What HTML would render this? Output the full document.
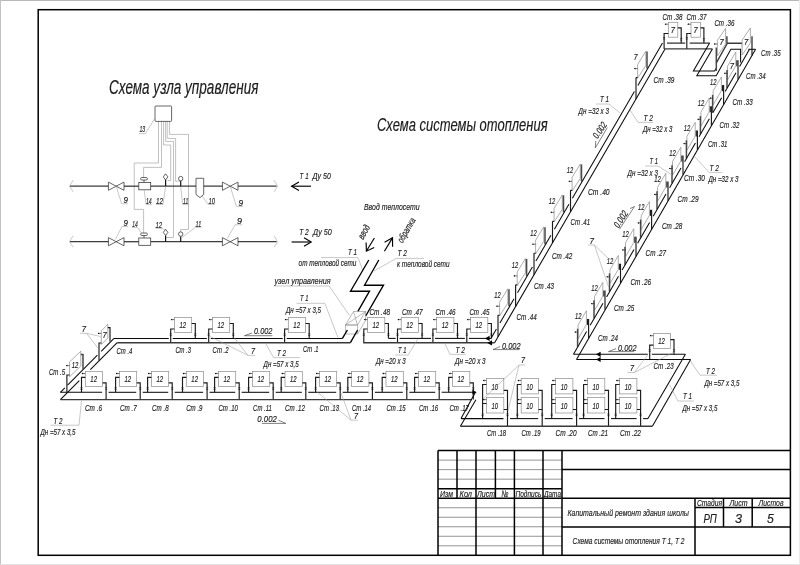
<!DOCTYPE html>
<html lang="ru"><head><meta charset="utf-8"><title>Схема системы отопления</title>
<style>
html,body{margin:0;padding:0;background:#fff}
body{width:800px;height:565px;overflow:hidden}
svg{display:block;will-change:transform;opacity:0.999}
text{font-family:"Liberation Sans",sans-serif;font-style:italic;fill:#1e1e1e;stroke:#1e1e1e;stroke-width:0.18}
.tt{fill:#1c1c1c}
line,path,rect,circle{fill:none;stroke-linecap:butt}
.fr{stroke:#000;stroke-width:1.5}
.tb{stroke:#000;stroke-width:1.5}
.tb2{stroke:#7a7a7a;stroke-width:0.8}
.cp{stroke:#3c3c3c;stroke-width:1.3}
.cpb{stroke:#111;stroke-width:1.2}
.sy{stroke:#333;stroke-width:0.75}
.syw{stroke:#333;stroke-width:0.75;fill:#fff}
.wr{stroke:#a6a6a6;stroke-width:0.7}
.ld{stroke:#9a9a9a;stroke-width:0.55}
.sl{stroke:#4a4a4a;stroke-width:0.7}
.ar{stroke:#000;stroke-width:1.15;stroke-linejoin:miter}
.m1{stroke:#0a0a0a;stroke-width:1.05}
.m2{stroke:#3a3a3a;stroke-width:1.35}
.pp{stroke:#1a1a1a;stroke-width:1.15}
.pg{stroke:#4a4a4a;stroke-width:1.5}
.rb{stroke:#8c8c8c;stroke-width:0.7;fill:#fff}
.rn{stroke:#8c8c8c;stroke-width:0.6}
.zz{stroke:#000;stroke-width:1.35;stroke-linejoin:miter}
.fa{fill:#000;stroke:none}
.tk{stroke:#1a1a1a;stroke-width:0.6}
</style></head>
<body>
<svg width="800" height="565" viewBox="0 0 800 565">
<rect x="0" y="0" width="800" height="565" style="fill:#fff"/>
<rect x="0" y="0" width="800" height="1" style="fill:#b9b9b9"/>
<rect x="0" y="0" width="1" height="565" style="fill:#c2c2c2"/>
<rect x="0" y="564" width="800" height="1" style="fill:#e4e4e4"/>
<rect x="799" y="0" width="1" height="565" style="fill:#ebebeb"/>
<rect class="fr" x="38.2" y="9.7" width="752.2" height="545.6"/>
<line class="tb2" x1="438" y1="460.12" x2="562" y2="460.12"/>
<line class="tb2" x1="438" y1="469.64" x2="562" y2="469.64"/>
<line class="tb2" x1="438" y1="479.16" x2="562" y2="479.16"/>
<line class="tb2" x1="438" y1="507.72" x2="562" y2="507.72"/>
<line class="tb2" x1="438" y1="517.24" x2="562" y2="517.24"/>
<line class="tb2" x1="438" y1="526.76" x2="562" y2="526.76"/>
<line class="tb2" x1="438" y1="536.28" x2="562" y2="536.28"/>
<line class="tb2" x1="438" y1="545.8" x2="562" y2="545.8"/>
<line class="tb" x1="438" y1="450.6" x2="790.4" y2="450.6"/>
<line class="tb" x1="438" y1="450.6" x2="438" y2="555.3"/>
<line class="tb" x1="438" y1="488.68" x2="562" y2="488.68"/>
<line class="tb" x1="438" y1="498.2" x2="790.4" y2="498.2"/>
<line class="tb" x1="476" y1="450.6" x2="476" y2="555.3"/>
<line class="tb" x1="514.4" y1="450.6" x2="514.4" y2="555.3"/>
<line class="tb" x1="543" y1="450.6" x2="543" y2="555.3"/>
<line class="tb" x1="562" y1="450.6" x2="562" y2="555.3"/>
<line class="tb" x1="457" y1="450.6" x2="457" y2="498.2"/>
<line class="tb" x1="495.4" y1="450.6" x2="495.4" y2="498.2"/>
<line class="tb" x1="562" y1="469.5" x2="790.4" y2="469.5"/>
<line class="tb" x1="562" y1="527" x2="790.4" y2="527"/>
<line class="tb" x1="695" y1="498.2" x2="695" y2="555.3"/>
<line class="tb" x1="695" y1="507.6" x2="790.4" y2="507.6"/>
<line class="tb" x1="723.5" y1="498.2" x2="723.5" y2="527"/>
<line class="tb" x1="752.2" y1="498.2" x2="752.2" y2="527"/>
<text class="tx" x="440" y="497" font-size="9.4" textLength="13" lengthAdjust="spacingAndGlyphs">Изм</text>
<text class="tx" x="459.6" y="497" font-size="9.4" textLength="12.4" lengthAdjust="spacingAndGlyphs">Кол</text>
<text class="tx" x="477" y="497" font-size="9.4" textLength="18" lengthAdjust="spacingAndGlyphs">Лист</text>
<text class="tx" x="501.4" y="497" font-size="9.4" textLength="7" lengthAdjust="spacingAndGlyphs">№</text>
<text class="tx" x="515.4" y="497" font-size="9.4" textLength="26" lengthAdjust="spacingAndGlyphs">Подпись</text>
<text class="tx" x="544" y="497" font-size="9.4" textLength="17" lengthAdjust="spacingAndGlyphs">Дата</text>
<text class="tx" x="697" y="506.2" font-size="8.9" textLength="25" lengthAdjust="spacingAndGlyphs">Стадия</text>
<text class="tx" x="729.5" y="506.2" font-size="8.9" textLength="18" lengthAdjust="spacingAndGlyphs">Лист</text>
<text class="tx" x="758.6" y="506.2" font-size="8.9" textLength="24.9" lengthAdjust="spacingAndGlyphs">Листов</text>
<text class="tx" x="703.4" y="522.5" font-size="13" textLength="13.4" lengthAdjust="spacingAndGlyphs">РП</text>
<text class="tx" x="735" y="522.5" font-size="13" textLength="7" lengthAdjust="spacingAndGlyphs">3</text>
<text class="tx" x="767" y="522.5" font-size="13" textLength="6.8" lengthAdjust="spacingAndGlyphs">5</text>
<text class="tx" x="567.5" y="515.6" font-size="9.8" textLength="121.5" lengthAdjust="spacingAndGlyphs">Капитальный ремонт здания школы</text>
<text class="tx" x="572.6" y="544" font-size="9.8" textLength="111.9" lengthAdjust="spacingAndGlyphs">Схема системы отопления Т 1,  Т 2</text>
<text class="tt" x="109" y="93.6" font-size="19.3" textLength="149.4" lengthAdjust="spacingAndGlyphs">Схема узла управления</text>
<path class="wr" d="M158.5,121.4 V163 H134.2 V209.4 H143.6 V233.2"/>
<path class="wr" d="M161.5,121.4 V167.4 H143.6 V177.5"/>
<path class="wr" d="M163.6,121.4 V145 H170.7 V180.5 H167.6"/>
<path class="wr" d="M165.6,121.4 V141.4 H173.5 V237.5 H165.6"/>
<path class="wr" d="M167.2,121.4 V138.4 H175.6 V181.2 H180.2"/>
<path class="wr" d="M169.4,121.4 V134.4 H188.5 V229.5 H180.6 V232"/>
<rect class="sy" x="155" y="106" width="16.6" height="15.4" rx="0.8"/>
<text class="tx" x="139.4" y="132.4" font-size="9.6" textLength="5.8" lengthAdjust="spacingAndGlyphs">13</text>
<path class="ld" d="M155,118 L145.4,133.6 L139,133.6"/>
<line class="cp" x1="70" y1="186.2" x2="108.4" y2="186.2"/>
<line class="cp" x1="124" y1="186.2" x2="138.8" y2="186.2"/>
<line class="cp" x1="150.7" y1="186.2" x2="222.4" y2="186.2"/>
<line class="cp" x1="238" y1="186.2" x2="276.6" y2="186.2"/>
<path class="ld" d="M73.2,180.2 L69.4,186.2 L73.2,191.8"/>
<path class="ld" d="M274,180.2 L277.6,186.2 L274,191.8"/>
<path class="sy" d="M108.4,182.1 L124,190.3 L124,182.1 L108.4,190.3 Z"/>
<path class="sy" d="M222.4,182.1 L238,190.3 L238,182.1 L222.4,190.3 Z"/>
<rect class="sy" x="138.8" y="182.5" width="11.9" height="7.3" style="fill:#fff"/>
<line class="sy" x1="144" y1="182.5" x2="144" y2="180"/>
<rect class="sy" x="140.6" y="177.5" width="6.8" height="2.5" rx="1.2"/>
<line class="cpb" x1="165.6" y1="186.2" x2="165.6" y2="180"/>
<path class="sy" d="M165.6,180 L167.9,176.9 L165.6,173.8 L163.3,176.9 Z"/>
<line class="cpb" x1="180.7" y1="186.2" x2="180.7" y2="180.9"/>
<circle class="sy" cx="180.7" cy="178.6" r="2.2"/>
<line class="cp" x1="70" y1="241.7" x2="108.4" y2="241.7"/>
<line class="cp" x1="124" y1="241.7" x2="138.8" y2="241.7"/>
<line class="cp" x1="150.7" y1="241.7" x2="222.4" y2="241.7"/>
<line class="cp" x1="238" y1="241.7" x2="276.6" y2="241.7"/>
<path class="ld" d="M73.2,235.7 L69.4,241.7 L73.2,247.3"/>
<path class="ld" d="M274,235.7 L277.6,241.7 L274,247.3"/>
<path class="sy" d="M108.4,237.6 L124,245.8 L124,237.6 L108.4,245.8 Z"/>
<path class="sy" d="M222.4,237.6 L238,245.8 L238,237.6 L222.4,245.8 Z"/>
<rect class="sy" x="138.8" y="238" width="11.9" height="7.3" style="fill:#fff"/>
<line class="sy" x1="144" y1="238" x2="144" y2="235.5"/>
<rect class="sy" x="140.6" y="233" width="6.8" height="2.5" rx="1.2"/>
<line class="cpb" x1="165.6" y1="241.7" x2="165.6" y2="235.5"/>
<path class="sy" d="M165.6,235.5 L167.9,232.4 L165.6,229.3 L163.3,232.4 Z"/>
<line class="cpb" x1="180.7" y1="241.7" x2="180.7" y2="236.4"/>
<circle class="sy" cx="180.7" cy="234.1" r="2.2"/>
<path class="syw" d="M196,178.3 L203.7,178.3 L203.7,194.5 L200,197.6 L196,194.5 Z"/>
<text class="tx" x="123.6" y="203" font-size="9.6" textLength="4.4" lengthAdjust="spacingAndGlyphs">9</text>
<path class="ld" d="M116.2,186.2 L121.6,203.8 L128,203.8"/>
<text class="tx" x="146" y="203.8" font-size="9.6" textLength="5.7" lengthAdjust="spacingAndGlyphs">14</text>
<path class="ld" d="M144.2,189.8 L146,204.6 L152,204.6"/>
<text class="tx" x="156" y="203.8" font-size="9.6" textLength="7" lengthAdjust="spacingAndGlyphs">12</text>
<path class="ld" d="M165.6,186.2 L163,204.6 L156,204.6"/>
<text class="tx" x="183" y="203.8" font-size="9.6" textLength="5.2" lengthAdjust="spacingAndGlyphs">11</text>
<path class="ld" d="M180.7,186.2 L182.6,204.6 L188.4,204.6"/>
<text class="tx" x="208.4" y="203.6" font-size="9.6" textLength="6.6" lengthAdjust="spacingAndGlyphs">10</text>
<path class="ld" d="M202,195.8 L208,204.4 L215.2,204.4"/>
<text class="tx" x="238.4" y="205.6" font-size="9.6" textLength="4.6" lengthAdjust="spacingAndGlyphs">9</text>
<path class="ld" d="M230.2,186.2 L236.4,206.4 L243.2,206.4"/>
<text class="tx" x="123.6" y="225.6" font-size="9.6" textLength="4.4" lengthAdjust="spacingAndGlyphs">9</text>
<path class="ld" d="M128.2,226.5 L122,226.5 L115.4,239.5"/>
<text class="tx" x="132.2" y="226.8" font-size="9.6" textLength="5.5" lengthAdjust="spacingAndGlyphs">14</text>
<path class="ld" d="M132,227.6 L137.7,227.6 L141,232.6"/>
<text class="tx" x="155.5" y="227.5" font-size="9.6" textLength="6.7" lengthAdjust="spacingAndGlyphs">12</text>
<path class="ld" d="M155.4,228.3 L162,228.3 L165,230"/>
<text class="tx" x="195.5" y="226.5" font-size="9.6" textLength="5.7" lengthAdjust="spacingAndGlyphs">11</text>
<path class="ld" d="M201.4,227.3 L195.4,227.3 L182.2,237.4"/>
<text class="tx" x="237" y="224" font-size="9.6" textLength="5" lengthAdjust="spacingAndGlyphs">9</text>
<path class="ld" d="M242.2,224.8 L235,224.8 L227.4,238.4"/>
<line class="ar" x1="291.6" y1="186.2" x2="311" y2="186.2"/>
<path class="ar" d="M299,182 L291.6,186.2 L299,190.4"/>
<line class="ar" x1="291.6" y1="242" x2="311" y2="242"/>
<path class="ar" d="M304,237.8 L311.2,242 L304,246.2"/>
<text class="tx" x="299.6" y="179.1" font-size="9.7" textLength="9" lengthAdjust="spacingAndGlyphs">T 1</text>
<text class="tx" x="312.6" y="179.1" font-size="9.7" textLength="18.3" lengthAdjust="spacingAndGlyphs">Ду 50</text>
<text class="tx" x="299.2" y="235.1" font-size="9.7" textLength="9.6" lengthAdjust="spacingAndGlyphs">T 2</text>
<text class="tx" x="313" y="235.1" font-size="9.7" textLength="18.8" lengthAdjust="spacingAndGlyphs">Ду 50</text>
<text class="tt" x="377" y="130.5" font-size="18.6" textLength="170.6" lengthAdjust="spacingAndGlyphs">Схема системы отопления</text>
<text class="tx" x="364" y="209.6" font-size="9.8" textLength="55.6" lengthAdjust="spacingAndGlyphs">Ввод теплосети</text>
<text transform="translate(362.9,240) rotate(-60)" font-size="9.6" textLength="15" lengthAdjust="spacingAndGlyphs">ввод</text>
<text transform="translate(402.5,243.4) rotate(-60)" font-size="9.6" textLength="27" lengthAdjust="spacingAndGlyphs">обратка</text>
<line class="ar" x1="374.4" y1="238" x2="366.6" y2="250.8"/>
<path class="ar" d="M366.1,242.4 L366.4,251.2 L374.2,247.4"/>
<line class="ar" x1="384.4" y1="251.2" x2="392.2" y2="238.4"/>
<path class="ar" d="M384.6,242.2 L392.5,237.8 L392.6,246.8"/>
<text class="tx" x="348" y="255" font-size="9.6" textLength="9" lengthAdjust="spacingAndGlyphs">T 1</text>
<path class="ld" d="M321,257.6 L358,257.6 L362.6,269.8"/>
<text class="tx" x="298.6" y="266.2" font-size="9.6" textLength="57.8" lengthAdjust="spacingAndGlyphs">от тепловой сети</text>
<text class="tx" x="397.6" y="256.4" font-size="9.6" textLength="9.4" lengthAdjust="spacingAndGlyphs">T 2</text>
<path class="ld" d="M424,258.4 L396.2,258.4 L374,271"/>
<text class="tx" x="397" y="267.2" font-size="9.6" textLength="52.6" lengthAdjust="spacingAndGlyphs">к тепловой сети</text>
<text class="tx" x="274.4" y="284.4" font-size="9.6" textLength="56.2" lengthAdjust="spacingAndGlyphs">узел управления</text>
<path class="ld" d="M274,286 L329.2,286 L349.5,315.5"/>
<text class="tx" x="300" y="301" font-size="9.6" textLength="8.4" lengthAdjust="spacingAndGlyphs">T 1</text>
<path class="ld" d="M296.5,303.3 L324.8,303.3 L338,337.6"/>
<text class="tx" x="286" y="312.5" font-size="9.6" textLength="35" lengthAdjust="spacingAndGlyphs">Дн =57 х 3,5</text>
<path class="zz" d="M368.8,260 L350.5,291.2 L369.5,291.2 L357.9,311.4"/>
<path class="zz" d="M378.8,260 L364.5,285.2 L383.5,285.2 L365.7,316"/>
<path class="rn" d="M345.5,325 L357.5,325 L357.5,334 L345.5,334 Z"/>
<path class="rn" d="M345.5,325 L353.5,311.5 L365.5,311.5 L357.5,325 Z"/>
<path class="rn" d="M365.5,311.5 L365.5,320.5 L357.5,334"/>
<line class="rn" x1="345.5" y1="325" x2="365.5" y2="311.5"/>
<line class="rn" x1="353.5" y1="311.5" x2="357.5" y2="325"/>
<rect class="rb" x="174.4" y="317.5" width="17.3" height="15"/>
<text class="tx" x="179.45" y="328.3" font-size="9.5" textLength="6.6" lengthAdjust="spacingAndGlyphs">12</text>
<line class="tk" x1="171" y1="319.6" x2="174.4" y2="319.6"/>
<path class="fa" d="M172.2,318.7 L170.8,319.6 L172.2,320.5 Z"/>
<path class="pp" d="M174.4,329 H170.7 V342.7"/>
<path class="pp" d="M191.7,323.5 H195.3 V338.4"/>
<line class="tk" x1="169.6" y1="335.4" x2="171.8" y2="335.4"/>
<line class="tk" x1="169.6" y1="333.8" x2="171.8" y2="333.8"/>
<line class="tk" x1="194.2" y1="335.4" x2="196.4" y2="335.4"/>
<line class="tk" x1="194.2" y1="333.8" x2="196.4" y2="333.8"/>
<rect class="rb" x="212.4" y="317.5" width="17.3" height="15"/>
<text class="tx" x="217.45" y="328.3" font-size="9.5" textLength="6.6" lengthAdjust="spacingAndGlyphs">12</text>
<line class="tk" x1="209" y1="319.6" x2="212.4" y2="319.6"/>
<path class="fa" d="M210.2,318.7 L208.8,319.6 L210.2,320.5 Z"/>
<path class="pp" d="M212.4,329 H208.7 V342.7"/>
<path class="pp" d="M229.7,323.5 H233.3 V338.4"/>
<line class="tk" x1="207.6" y1="335.4" x2="209.8" y2="335.4"/>
<line class="tk" x1="207.6" y1="333.8" x2="209.8" y2="333.8"/>
<line class="tk" x1="232.2" y1="335.4" x2="234.4" y2="335.4"/>
<line class="tk" x1="232.2" y1="333.8" x2="234.4" y2="333.8"/>
<rect class="rb" x="288.3" y="317.5" width="17.3" height="15"/>
<text class="tx" x="293.35" y="328.3" font-size="9.5" textLength="6.6" lengthAdjust="spacingAndGlyphs">12</text>
<line class="tk" x1="284.9" y1="319.6" x2="288.3" y2="319.6"/>
<path class="fa" d="M286.1,318.7 L284.7,319.6 L286.1,320.5 Z"/>
<path class="pp" d="M288.3,329 H284.6 V342.7"/>
<path class="pp" d="M305.6,323.5 H309.2 V338.4"/>
<line class="tk" x1="283.5" y1="335.4" x2="285.7" y2="335.4"/>
<line class="tk" x1="283.5" y1="333.8" x2="285.7" y2="333.8"/>
<line class="tk" x1="308.1" y1="335.4" x2="310.3" y2="335.4"/>
<line class="tk" x1="308.1" y1="333.8" x2="310.3" y2="333.8"/>
<line class="m1" x1="114" y1="338.4" x2="168.8" y2="338.4"/>
<line class="m1" x1="172.8" y1="338.4" x2="206.8" y2="338.4"/>
<line class="m1" x1="210.8" y1="338.4" x2="282.7" y2="338.4"/>
<line class="m1" x1="286.7" y1="338.4" x2="342.4" y2="338.4"/>
<line class="m2" x1="117.2" y1="342.7" x2="350.4" y2="342.7"/>
<path class="zz" d="M347.4,330 L342.4,338.4"/>
<path class="zz" d="M357.6,330 L350.4,342.7"/>
<line class="zz" x1="342.4" y1="338.4" x2="342" y2="338.4"/>
<line class="m1" x1="60.4" y1="392.3" x2="64.8" y2="387.88"/>
<line class="m1" x1="67.6" y1="385.06" x2="97.4" y2="355.09"/>
<line class="m1" x1="101.2" y1="351.27" x2="114" y2="338.4"/>
<line class="m1" x1="60.4" y1="399.6" x2="79.3" y2="380.67"/>
<line class="m1" x1="90.3" y1="369.65" x2="117.2" y2="342.7"/>
<path class="rb" d="M107.8,324.2 L101.3,331 L101.3,344.5 L107.8,338 Z"/>
<text class="tx" x="102.5" y="337.6" font-size="9.2" textLength="4.2" lengthAdjust="spacingAndGlyphs">7</text>
<path class="pp" d="M107.8,327.6 H110 V341.6"/>
<path class="pp" d="M101.3,343 H99 V360.6"/>
<line class="tk" x1="97.9" y1="333.4" x2="101.3" y2="333.4"/>
<path class="fa" d="M99.1,332.5 L97.7,333.4 L99.1,334.3 Z"/>
<path class="rb" d="M80.8,351.2 L69.5,362 L69.5,376.8 L80.8,366 Z"/>
<text class="tx" x="71.7" y="367.6" font-size="9.4" textLength="6.6" lengthAdjust="spacingAndGlyphs">12</text>
<path class="pg" d="M80.8,354.6 H83 V369"/>
<path class="pp" d="M69.5,375 H66.9 V392.8"/>
<line class="tk" x1="66.1" y1="365.6" x2="69.5" y2="365.6"/>
<path class="fa" d="M67.3,364.7 L65.9,365.6 L67.3,366.5 Z"/>
<text class="tx" x="116.6" y="354.4" font-size="9.6" textLength="15.8" lengthAdjust="spacingAndGlyphs">Ст .4</text>
<text class="tx" x="49" y="375" font-size="9.6" textLength="16" lengthAdjust="spacingAndGlyphs">Ст .5</text>
<text class="tx" x="81.8" y="331.5" font-size="9.6" textLength="4.2" lengthAdjust="spacingAndGlyphs">7</text>
<path class="ld" d="M80,333.3 L86.5,333.3 L100.5,336.5"/>
<path class="ld" d="M86.5,333.3 L98,348"/>
<text class="tx" x="175.4" y="352.6" font-size="9.6" textLength="15.6" lengthAdjust="spacingAndGlyphs">Ст .3</text>
<text class="tx" x="212.6" y="352.6" font-size="9.6" textLength="16" lengthAdjust="spacingAndGlyphs">Ст .2</text>
<text class="tx" x="303" y="352" font-size="9.6" textLength="15.5" lengthAdjust="spacingAndGlyphs">Ст .1</text>
<text class="tx" x="254" y="334.4" font-size="9.6" textLength="18.4" lengthAdjust="spacingAndGlyphs">0.002</text>
<path class="sl" d="M272.4,335.7 L244.4,335.7 L252,333"/>
<text class="tx" x="251" y="353.6" font-size="9.6" textLength="4" lengthAdjust="spacingAndGlyphs">7</text>
<path class="ld" d="M255,355.4 L248,355.4 L209,336"/>
<path class="ld" d="M248,355.4 L234,337.4"/>
<text class="tx" x="277" y="356" font-size="9.6" textLength="9" lengthAdjust="spacingAndGlyphs">T 2</text>
<path class="ld" d="M300,357.6 L273.6,357.6 L266,344"/>
<text class="tx" x="263.6" y="367" font-size="9.6" textLength="35" lengthAdjust="spacingAndGlyphs">Дн =57 х 3,5</text>
<rect class="rb" x="367.5" y="317.5" width="17.3" height="15"/>
<text class="tx" x="372.55" y="328.3" font-size="9.5" textLength="6.6" lengthAdjust="spacingAndGlyphs">12</text>
<line class="tk" x1="364.1" y1="319.6" x2="367.5" y2="319.6"/>
<path class="fa" d="M365.3,318.7 L363.9,319.6 L365.3,320.5 Z"/>
<path class="pp" d="M367.5,329 H363.8 V342.7"/>
<path class="pp" d="M384.8,323.5 H388.4 V338.4"/>
<line class="tk" x1="362.7" y1="335.4" x2="364.9" y2="335.4"/>
<line class="tk" x1="362.7" y1="333.8" x2="364.9" y2="333.8"/>
<line class="tk" x1="387.3" y1="335.4" x2="389.5" y2="335.4"/>
<line class="tk" x1="387.3" y1="333.8" x2="389.5" y2="333.8"/>
<rect class="rb" x="401.2" y="317.5" width="17.3" height="15"/>
<text class="tx" x="406.25" y="328.3" font-size="9.5" textLength="6.6" lengthAdjust="spacingAndGlyphs">12</text>
<line class="tk" x1="397.8" y1="319.6" x2="401.2" y2="319.6"/>
<path class="fa" d="M399,318.7 L397.6,319.6 L399,320.5 Z"/>
<path class="pp" d="M401.2,329 H397.5 V342.7"/>
<path class="pp" d="M418.5,323.5 H422.1 V338.4"/>
<line class="tk" x1="396.4" y1="335.4" x2="398.6" y2="335.4"/>
<line class="tk" x1="396.4" y1="333.8" x2="398.6" y2="333.8"/>
<line class="tk" x1="421" y1="335.4" x2="423.2" y2="335.4"/>
<line class="tk" x1="421" y1="333.8" x2="423.2" y2="333.8"/>
<rect class="rb" x="436.6" y="317.5" width="17.3" height="15"/>
<text class="tx" x="441.65" y="328.3" font-size="9.5" textLength="6.6" lengthAdjust="spacingAndGlyphs">12</text>
<line class="tk" x1="433.2" y1="319.6" x2="436.6" y2="319.6"/>
<path class="fa" d="M434.4,318.7 L433,319.6 L434.4,320.5 Z"/>
<path class="pp" d="M436.6,329 H432.9 V342.7"/>
<path class="pp" d="M453.9,323.5 H457.5 V338.4"/>
<line class="tk" x1="431.8" y1="335.4" x2="434" y2="335.4"/>
<line class="tk" x1="431.8" y1="333.8" x2="434" y2="333.8"/>
<line class="tk" x1="456.4" y1="335.4" x2="458.6" y2="335.4"/>
<line class="tk" x1="456.4" y1="333.8" x2="458.6" y2="333.8"/>
<rect class="rb" x="470.5" y="317.5" width="17.3" height="15"/>
<text class="tx" x="475.55" y="328.3" font-size="9.5" textLength="6.6" lengthAdjust="spacingAndGlyphs">12</text>
<line class="tk" x1="467.1" y1="319.6" x2="470.5" y2="319.6"/>
<path class="fa" d="M468.3,318.7 L466.9,319.6 L468.3,320.5 Z"/>
<path class="pp" d="M470.5,329 H466.8 V342.7"/>
<path class="pp" d="M487.8,323.5 H491.4 V338.4"/>
<line class="tk" x1="465.7" y1="335.4" x2="467.9" y2="335.4"/>
<line class="tk" x1="465.7" y1="333.8" x2="467.9" y2="333.8"/>
<line class="tk" x1="490.3" y1="335.4" x2="492.5" y2="335.4"/>
<line class="tk" x1="490.3" y1="333.8" x2="492.5" y2="333.8"/>
<line class="m1" x1="388.6" y1="338.4" x2="395.6" y2="338.4"/>
<line class="m1" x1="399.6" y1="338.4" x2="431" y2="338.4"/>
<line class="m1" x1="435" y1="338.4" x2="464.9" y2="338.4"/>
<line class="m1" x1="468.9" y1="338.4" x2="491" y2="338.4"/>
<line class="m2" x1="363.2" y1="342.7" x2="494.6" y2="342.7"/>
<path class="fa" d="M484.9,338.4 L489.6,335.8 L489.6,341 Z"/>
<path class="fa" d="M487.3,342.9 L492,340.3 L492,345.5 Z"/>
<text class="tx" x="369.4" y="315" font-size="9.6" textLength="20.6" lengthAdjust="spacingAndGlyphs">Ст .48</text>
<text class="tx" x="402" y="315" font-size="9.6" textLength="20.6" lengthAdjust="spacingAndGlyphs">Ст .47</text>
<text class="tx" x="435.4" y="315" font-size="9.6" textLength="20.2" lengthAdjust="spacingAndGlyphs">Ст .46</text>
<text class="tx" x="469.4" y="315" font-size="9.6" textLength="20" lengthAdjust="spacingAndGlyphs">Ст .45</text>
<text class="tx" x="398" y="353.4" font-size="9.6" textLength="8.4" lengthAdjust="spacingAndGlyphs">T 1</text>
<path class="ld" d="M395,355 L408,355 L418,338.6"/>
<text class="tx" x="376" y="364.4" font-size="9.6" textLength="29.6" lengthAdjust="spacingAndGlyphs">Дн =20 х 3</text>
<text class="tx" x="455.6" y="353" font-size="9.6" textLength="9.4" lengthAdjust="spacingAndGlyphs">T 2</text>
<path class="ld" d="M465.5,354.4 L450,354.4 L445,344"/>
<text class="tx" x="455" y="364" font-size="9.6" textLength="30.6" lengthAdjust="spacingAndGlyphs">Дн =20 х 3</text>
<text class="tx" x="502" y="348.5" font-size="9.6" textLength="18.5" lengthAdjust="spacingAndGlyphs">0.002</text>
<path class="sl" d="M519.5,349.6 L493,349.6 L500,346.6"/>
<rect class="rb" x="85.3" y="371.4" width="17.3" height="15"/>
<text class="tx" x="90.35" y="382.2" font-size="9.5" textLength="6.6" lengthAdjust="spacingAndGlyphs">12</text>
<line class="tk" x1="81.9" y1="373.5" x2="85.3" y2="373.5"/>
<path class="fa" d="M83.1,372.6 L81.7,373.5 L83.1,374.4 Z"/>
<path class="pp" d="M85.3,377.3 H81.5 V392.3"/>
<path class="pp" d="M102.6,382.8 H106.1 V399.6"/>
<line class="tk" x1="80.4" y1="389.3" x2="82.6" y2="389.3"/>
<line class="tk" x1="80.4" y1="387.7" x2="82.6" y2="387.7"/>
<line class="tk" x1="105" y1="389.3" x2="107.2" y2="389.3"/>
<line class="tk" x1="105" y1="387.7" x2="107.2" y2="387.7"/>
<rect class="rb" x="119.4" y="371.4" width="17.3" height="15"/>
<text class="tx" x="124.45" y="382.2" font-size="9.5" textLength="6.6" lengthAdjust="spacingAndGlyphs">12</text>
<line class="tk" x1="116" y1="373.5" x2="119.4" y2="373.5"/>
<path class="fa" d="M117.2,372.6 L115.8,373.5 L117.2,374.4 Z"/>
<path class="pp" d="M119.4,377.3 H115.6 V392.3"/>
<path class="pp" d="M136.7,382.8 H140.2 V399.6"/>
<line class="tk" x1="114.5" y1="389.3" x2="116.7" y2="389.3"/>
<line class="tk" x1="114.5" y1="387.7" x2="116.7" y2="387.7"/>
<line class="tk" x1="139.1" y1="389.3" x2="141.3" y2="389.3"/>
<line class="tk" x1="139.1" y1="387.7" x2="141.3" y2="387.7"/>
<rect class="rb" x="151.4" y="371.4" width="17.3" height="15"/>
<text class="tx" x="156.45" y="382.2" font-size="9.5" textLength="6.6" lengthAdjust="spacingAndGlyphs">12</text>
<line class="tk" x1="148" y1="373.5" x2="151.4" y2="373.5"/>
<path class="fa" d="M149.2,372.6 L147.8,373.5 L149.2,374.4 Z"/>
<path class="pp" d="M151.4,377.3 H147.6 V392.3"/>
<path class="pp" d="M168.7,382.8 H172.2 V399.6"/>
<line class="tk" x1="146.5" y1="389.3" x2="148.7" y2="389.3"/>
<line class="tk" x1="146.5" y1="387.7" x2="148.7" y2="387.7"/>
<line class="tk" x1="171.1" y1="389.3" x2="173.3" y2="389.3"/>
<line class="tk" x1="171.1" y1="387.7" x2="173.3" y2="387.7"/>
<rect class="rb" x="186.3" y="371.4" width="17.3" height="15"/>
<text class="tx" x="191.35" y="382.2" font-size="9.5" textLength="6.6" lengthAdjust="spacingAndGlyphs">12</text>
<line class="tk" x1="182.9" y1="373.5" x2="186.3" y2="373.5"/>
<path class="fa" d="M184.1,372.6 L182.7,373.5 L184.1,374.4 Z"/>
<path class="pp" d="M186.3,377.3 H182.5 V392.3"/>
<path class="pp" d="M203.6,382.8 H207.1 V399.6"/>
<line class="tk" x1="181.4" y1="389.3" x2="183.6" y2="389.3"/>
<line class="tk" x1="181.4" y1="387.7" x2="183.6" y2="387.7"/>
<line class="tk" x1="206" y1="389.3" x2="208.2" y2="389.3"/>
<line class="tk" x1="206" y1="387.7" x2="208.2" y2="387.7"/>
<rect class="rb" x="218.4" y="371.4" width="17.3" height="15"/>
<text class="tx" x="223.45" y="382.2" font-size="9.5" textLength="6.6" lengthAdjust="spacingAndGlyphs">12</text>
<line class="tk" x1="215" y1="373.5" x2="218.4" y2="373.5"/>
<path class="fa" d="M216.2,372.6 L214.8,373.5 L216.2,374.4 Z"/>
<path class="pp" d="M218.4,377.3 H214.6 V392.3"/>
<path class="pp" d="M235.7,382.8 H239.2 V399.6"/>
<line class="tk" x1="213.5" y1="389.3" x2="215.7" y2="389.3"/>
<line class="tk" x1="213.5" y1="387.7" x2="215.7" y2="387.7"/>
<line class="tk" x1="238.1" y1="389.3" x2="240.3" y2="389.3"/>
<line class="tk" x1="238.1" y1="387.7" x2="240.3" y2="387.7"/>
<rect class="rb" x="252.4" y="371.4" width="17.3" height="15"/>
<text class="tx" x="257.45" y="382.2" font-size="9.5" textLength="6.6" lengthAdjust="spacingAndGlyphs">12</text>
<line class="tk" x1="249" y1="373.5" x2="252.4" y2="373.5"/>
<path class="fa" d="M250.2,372.6 L248.8,373.5 L250.2,374.4 Z"/>
<path class="pp" d="M252.4,377.3 H248.6 V392.3"/>
<path class="pp" d="M269.7,382.8 H273.2 V399.6"/>
<line class="tk" x1="247.5" y1="389.3" x2="249.7" y2="389.3"/>
<line class="tk" x1="247.5" y1="387.7" x2="249.7" y2="387.7"/>
<line class="tk" x1="272.1" y1="389.3" x2="274.3" y2="389.3"/>
<line class="tk" x1="272.1" y1="387.7" x2="274.3" y2="387.7"/>
<rect class="rb" x="285" y="371.4" width="17.3" height="15"/>
<text class="tx" x="290.05" y="382.2" font-size="9.5" textLength="6.6" lengthAdjust="spacingAndGlyphs">12</text>
<line class="tk" x1="281.6" y1="373.5" x2="285" y2="373.5"/>
<path class="fa" d="M282.8,372.6 L281.4,373.5 L282.8,374.4 Z"/>
<path class="pp" d="M285,377.3 H281.2 V392.3"/>
<path class="pp" d="M302.3,382.8 H305.8 V399.6"/>
<line class="tk" x1="280.1" y1="389.3" x2="282.3" y2="389.3"/>
<line class="tk" x1="280.1" y1="387.7" x2="282.3" y2="387.7"/>
<line class="tk" x1="304.7" y1="389.3" x2="306.9" y2="389.3"/>
<line class="tk" x1="304.7" y1="387.7" x2="306.9" y2="387.7"/>
<rect class="rb" x="319.4" y="371.4" width="17.3" height="15"/>
<text class="tx" x="324.45" y="382.2" font-size="9.5" textLength="6.6" lengthAdjust="spacingAndGlyphs">12</text>
<line class="tk" x1="316" y1="373.5" x2="319.4" y2="373.5"/>
<path class="fa" d="M317.2,372.6 L315.8,373.5 L317.2,374.4 Z"/>
<path class="pp" d="M319.4,377.3 H315.6 V392.3"/>
<path class="pp" d="M336.7,382.8 H340.2 V399.6"/>
<line class="tk" x1="314.5" y1="389.3" x2="316.7" y2="389.3"/>
<line class="tk" x1="314.5" y1="387.7" x2="316.7" y2="387.7"/>
<line class="tk" x1="339.1" y1="389.3" x2="341.3" y2="389.3"/>
<line class="tk" x1="339.1" y1="387.7" x2="341.3" y2="387.7"/>
<rect class="rb" x="351.6" y="371.4" width="17.3" height="15"/>
<text class="tx" x="356.65" y="382.2" font-size="9.5" textLength="6.6" lengthAdjust="spacingAndGlyphs">12</text>
<line class="tk" x1="348.2" y1="373.5" x2="351.6" y2="373.5"/>
<path class="fa" d="M349.4,372.6 L348,373.5 L349.4,374.4 Z"/>
<path class="pp" d="M351.6,377.3 H347.8 V392.3"/>
<path class="pp" d="M368.9,382.8 H372.4 V399.6"/>
<line class="tk" x1="346.7" y1="389.3" x2="348.9" y2="389.3"/>
<line class="tk" x1="346.7" y1="387.7" x2="348.9" y2="387.7"/>
<line class="tk" x1="371.3" y1="389.3" x2="373.5" y2="389.3"/>
<line class="tk" x1="371.3" y1="387.7" x2="373.5" y2="387.7"/>
<rect class="rb" x="386" y="371.4" width="17.3" height="15"/>
<text class="tx" x="391.05" y="382.2" font-size="9.5" textLength="6.6" lengthAdjust="spacingAndGlyphs">12</text>
<line class="tk" x1="382.6" y1="373.5" x2="386" y2="373.5"/>
<path class="fa" d="M383.8,372.6 L382.4,373.5 L383.8,374.4 Z"/>
<path class="pp" d="M386,377.3 H382.2 V392.3"/>
<path class="pp" d="M403.3,382.8 H406.8 V399.6"/>
<line class="tk" x1="381.1" y1="389.3" x2="383.3" y2="389.3"/>
<line class="tk" x1="381.1" y1="387.7" x2="383.3" y2="387.7"/>
<line class="tk" x1="405.7" y1="389.3" x2="407.9" y2="389.3"/>
<line class="tk" x1="405.7" y1="387.7" x2="407.9" y2="387.7"/>
<rect class="rb" x="418.4" y="371.4" width="17.3" height="15"/>
<text class="tx" x="423.45" y="382.2" font-size="9.5" textLength="6.6" lengthAdjust="spacingAndGlyphs">12</text>
<line class="tk" x1="415" y1="373.5" x2="418.4" y2="373.5"/>
<path class="fa" d="M416.2,372.6 L414.8,373.5 L416.2,374.4 Z"/>
<path class="pp" d="M418.4,377.3 H414.6 V392.3"/>
<path class="pp" d="M435.7,382.8 H439.2 V399.6"/>
<line class="tk" x1="413.5" y1="389.3" x2="415.7" y2="389.3"/>
<line class="tk" x1="413.5" y1="387.7" x2="415.7" y2="387.7"/>
<line class="tk" x1="438.1" y1="389.3" x2="440.3" y2="389.3"/>
<line class="tk" x1="438.1" y1="387.7" x2="440.3" y2="387.7"/>
<rect class="rb" x="452.5" y="371.4" width="17.3" height="15"/>
<text class="tx" x="457.55" y="382.2" font-size="9.5" textLength="6.6" lengthAdjust="spacingAndGlyphs">12</text>
<line class="tk" x1="449.1" y1="373.5" x2="452.5" y2="373.5"/>
<path class="fa" d="M450.3,372.6 L448.9,373.5 L450.3,374.4 Z"/>
<path class="pp" d="M452.5,377.3 H448.7 V392.3"/>
<path class="pp" d="M469.8,382.8 H473.3 V399.6"/>
<line class="tk" x1="447.6" y1="389.3" x2="449.8" y2="389.3"/>
<line class="tk" x1="447.6" y1="387.7" x2="449.8" y2="387.7"/>
<line class="tk" x1="472.2" y1="389.3" x2="474.4" y2="389.3"/>
<line class="tk" x1="472.2" y1="387.7" x2="474.4" y2="387.7"/>
<line class="m1" x1="60.4" y1="392.3" x2="102.1" y2="392.3"/>
<line class="m1" x1="108.6" y1="392.3" x2="136.2" y2="392.3"/>
<line class="m1" x1="142.7" y1="392.3" x2="168.2" y2="392.3"/>
<line class="m1" x1="174.7" y1="392.3" x2="203.1" y2="392.3"/>
<line class="m1" x1="209.6" y1="392.3" x2="235.2" y2="392.3"/>
<line class="m1" x1="241.7" y1="392.3" x2="269.2" y2="392.3"/>
<line class="m1" x1="275.7" y1="392.3" x2="301.8" y2="392.3"/>
<line class="m1" x1="308.3" y1="392.3" x2="336.2" y2="392.3"/>
<line class="m1" x1="342.7" y1="392.3" x2="368.4" y2="392.3"/>
<line class="m1" x1="374.9" y1="392.3" x2="402.8" y2="392.3"/>
<line class="m1" x1="409.3" y1="392.3" x2="435.2" y2="392.3"/>
<line class="m1" x1="441.7" y1="392.3" x2="475.4" y2="392.3"/>
<line class="m2" x1="60.4" y1="399.6" x2="471.6" y2="399.6"/>
<path class="fa" d="M476.6,392.3 L472.4,390 L472.4,394.6 Z"/>
<text class="tx" x="85" y="410.7" font-size="9.6" textLength="17" lengthAdjust="spacingAndGlyphs">Ст .6</text>
<text class="tx" x="120" y="410.7" font-size="9.6" textLength="16.8" lengthAdjust="spacingAndGlyphs">Ст .7</text>
<text class="tx" x="152" y="410.7" font-size="9.6" textLength="16.6" lengthAdjust="spacingAndGlyphs">Ст .8</text>
<text class="tx" x="186.2" y="410.7" font-size="9.6" textLength="16.3" lengthAdjust="spacingAndGlyphs">Ст .9</text>
<text class="tx" x="218.4" y="410.7" font-size="9.6" textLength="19.6" lengthAdjust="spacingAndGlyphs">Ст .10</text>
<text class="tx" x="253.1" y="410.7" font-size="9.6" textLength="18.8" lengthAdjust="spacingAndGlyphs">Ст .11</text>
<text class="tx" x="285" y="410.7" font-size="9.6" textLength="20" lengthAdjust="spacingAndGlyphs">Ст .12</text>
<text class="tx" x="319.6" y="410.7" font-size="9.6" textLength="19.4" lengthAdjust="spacingAndGlyphs">Ст .13</text>
<text class="tx" x="352" y="410.7" font-size="9.6" textLength="19" lengthAdjust="spacingAndGlyphs">Ст .14</text>
<text class="tx" x="386.4" y="410.7" font-size="9.6" textLength="19.2" lengthAdjust="spacingAndGlyphs">Ст .15</text>
<text class="tx" x="419" y="410.7" font-size="9.6" textLength="19" lengthAdjust="spacingAndGlyphs">Ст .16</text>
<text class="tx" x="449.4" y="410.7" font-size="9.6" textLength="19.6" lengthAdjust="spacingAndGlyphs">Ст .17</text>
<text class="tx" x="53.5" y="423.5" font-size="9.6" textLength="9" lengthAdjust="spacingAndGlyphs">T 2</text>
<path class="ld" d="M50.5,425.2 L79,425.2 L81.5,400.5"/>
<text class="tx" x="40.5" y="435" font-size="9.6" textLength="35" lengthAdjust="spacingAndGlyphs">Дн =57 х 3,5</text>
<text class="tx" x="257.3" y="421.8" font-size="9.6" textLength="19.5" lengthAdjust="spacingAndGlyphs">0.002</text>
<path class="sl" d="M261.8,423.4 L285.8,423.4 L278.3,420.2"/>
<text class="tx" x="354" y="419" font-size="9.6" textLength="4" lengthAdjust="spacingAndGlyphs">7</text>
<path class="ld" d="M358,420.2 L351,420.2 L316,391"/>
<path class="ld" d="M351,420.2 L341,393"/>
<line class="m1" x1="475.4" y1="392.3" x2="461" y2="418.6"/>
<line class="m1" x1="475.9" y1="399.8" x2="460.4" y2="426.2"/>
<rect class="rb" x="486.5" y="378.5" width="17.3" height="15.4"/>
<text class="tx" x="491.55" y="389.5" font-size="9.5" textLength="6.6" lengthAdjust="spacingAndGlyphs">10</text>
<line class="tk" x1="483.1" y1="380.5" x2="486.5" y2="380.5"/>
<path class="fa" d="M484.3,379.6 L482.9,380.5 L484.3,381.4 Z"/>
<rect class="rb" x="486.5" y="397.6" width="17.3" height="15.4"/>
<text class="tx" x="491.55" y="408.6" font-size="9.5" textLength="6.6" lengthAdjust="spacingAndGlyphs">10</text>
<line class="tk" x1="483.1" y1="399.6" x2="486.5" y2="399.6"/>
<path class="fa" d="M484.3,398.7 L482.9,399.6 L484.3,400.5 Z"/>
<path class="pp" d="M486.5,384.5 H482.6 V418.6 M486.5,403.5 H482.6"/>
<path class="pp" d="M503.8,390.3 H507.5 V426.2 M503.8,409.5 H507.5"/>
<line class="tk" x1="481.5" y1="415.6" x2="483.7" y2="415.6"/>
<line class="tk" x1="481.5" y1="414" x2="483.7" y2="414"/>
<line class="tk" x1="506.4" y1="415.6" x2="508.6" y2="415.6"/>
<line class="tk" x1="506.4" y1="414" x2="508.6" y2="414"/>
<rect class="rb" x="521.2" y="378.5" width="17.3" height="15.4"/>
<text class="tx" x="526.25" y="389.5" font-size="9.5" textLength="6.6" lengthAdjust="spacingAndGlyphs">10</text>
<line class="tk" x1="517.8" y1="380.5" x2="521.2" y2="380.5"/>
<path class="fa" d="M519,379.6 L517.6,380.5 L519,381.4 Z"/>
<rect class="rb" x="521.2" y="397.6" width="17.3" height="15.4"/>
<text class="tx" x="526.25" y="408.6" font-size="9.5" textLength="6.6" lengthAdjust="spacingAndGlyphs">10</text>
<line class="tk" x1="517.8" y1="399.6" x2="521.2" y2="399.6"/>
<path class="fa" d="M519,398.7 L517.6,399.6 L519,400.5 Z"/>
<path class="pp" d="M521.2,384.5 H517.3 V418.6 M521.2,403.5 H517.3"/>
<path class="pp" d="M538.5,390.3 H542.2 V426.2 M538.5,409.5 H542.2"/>
<line class="tk" x1="516.2" y1="415.6" x2="518.4" y2="415.6"/>
<line class="tk" x1="516.2" y1="414" x2="518.4" y2="414"/>
<line class="tk" x1="541.1" y1="415.6" x2="543.3" y2="415.6"/>
<line class="tk" x1="541.1" y1="414" x2="543.3" y2="414"/>
<rect class="rb" x="555.6" y="378.5" width="17.3" height="15.4"/>
<text class="tx" x="560.65" y="389.5" font-size="9.5" textLength="6.6" lengthAdjust="spacingAndGlyphs">10</text>
<line class="tk" x1="552.2" y1="380.5" x2="555.6" y2="380.5"/>
<path class="fa" d="M553.4,379.6 L552,380.5 L553.4,381.4 Z"/>
<rect class="rb" x="555.6" y="397.6" width="17.3" height="15.4"/>
<text class="tx" x="560.65" y="408.6" font-size="9.5" textLength="6.6" lengthAdjust="spacingAndGlyphs">10</text>
<line class="tk" x1="552.2" y1="399.6" x2="555.6" y2="399.6"/>
<path class="fa" d="M553.4,398.7 L552,399.6 L553.4,400.5 Z"/>
<path class="pp" d="M555.6,384.5 H551.7 V418.6 M555.6,403.5 H551.7"/>
<path class="pp" d="M572.9,390.3 H576.6 V426.2 M572.9,409.5 H576.6"/>
<line class="tk" x1="550.6" y1="415.6" x2="552.8" y2="415.6"/>
<line class="tk" x1="550.6" y1="414" x2="552.8" y2="414"/>
<line class="tk" x1="575.5" y1="415.6" x2="577.7" y2="415.6"/>
<line class="tk" x1="575.5" y1="414" x2="577.7" y2="414"/>
<rect class="rb" x="587.5" y="378.5" width="17.3" height="15.4"/>
<text class="tx" x="592.55" y="389.5" font-size="9.5" textLength="6.6" lengthAdjust="spacingAndGlyphs">10</text>
<line class="tk" x1="584.1" y1="380.5" x2="587.5" y2="380.5"/>
<path class="fa" d="M585.3,379.6 L583.9,380.5 L585.3,381.4 Z"/>
<rect class="rb" x="587.5" y="397.6" width="17.3" height="15.4"/>
<text class="tx" x="592.55" y="408.6" font-size="9.5" textLength="6.6" lengthAdjust="spacingAndGlyphs">10</text>
<line class="tk" x1="584.1" y1="399.6" x2="587.5" y2="399.6"/>
<path class="fa" d="M585.3,398.7 L583.9,399.6 L585.3,400.5 Z"/>
<path class="pp" d="M587.5,384.5 H583.6 V418.6 M587.5,403.5 H583.6"/>
<path class="pp" d="M604.8,390.3 H608.5 V426.2 M604.8,409.5 H608.5"/>
<line class="tk" x1="582.5" y1="415.6" x2="584.7" y2="415.6"/>
<line class="tk" x1="582.5" y1="414" x2="584.7" y2="414"/>
<line class="tk" x1="607.4" y1="415.6" x2="609.6" y2="415.6"/>
<line class="tk" x1="607.4" y1="414" x2="609.6" y2="414"/>
<rect class="rb" x="619.6" y="378.5" width="17.3" height="15.4"/>
<text class="tx" x="624.65" y="389.5" font-size="9.5" textLength="6.6" lengthAdjust="spacingAndGlyphs">10</text>
<line class="tk" x1="616.2" y1="380.5" x2="619.6" y2="380.5"/>
<path class="fa" d="M617.4,379.6 L616,380.5 L617.4,381.4 Z"/>
<rect class="rb" x="619.6" y="397.6" width="17.3" height="15.4"/>
<text class="tx" x="624.65" y="408.6" font-size="9.5" textLength="6.6" lengthAdjust="spacingAndGlyphs">10</text>
<line class="tk" x1="616.2" y1="399.6" x2="619.6" y2="399.6"/>
<path class="fa" d="M617.4,398.7 L616,399.6 L617.4,400.5 Z"/>
<path class="pp" d="M619.6,384.5 H615.7 V418.6 M619.6,403.5 H615.7"/>
<path class="pp" d="M636.9,390.3 H640.6 V426.2 M636.9,409.5 H640.6"/>
<line class="tk" x1="614.6" y1="415.6" x2="616.8" y2="415.6"/>
<line class="tk" x1="614.6" y1="414" x2="616.8" y2="414"/>
<line class="tk" x1="639.5" y1="415.6" x2="641.7" y2="415.6"/>
<line class="tk" x1="639.5" y1="414" x2="641.7" y2="414"/>
<line class="m1" x1="461" y1="418.6" x2="503.5" y2="418.6"/>
<line class="m1" x1="510" y1="418.6" x2="538.2" y2="418.6"/>
<line class="m1" x1="544.7" y1="418.6" x2="572.6" y2="418.6"/>
<line class="m1" x1="579.1" y1="418.6" x2="604.5" y2="418.6"/>
<line class="m1" x1="611" y1="418.6" x2="636.6" y2="418.6"/>
<line class="m1" x1="643.1" y1="418.6" x2="648" y2="418.6"/>
<line class="m2" x1="460.4" y1="426.2" x2="652.4" y2="426.2"/>
<text class="tx" x="487" y="435.6" font-size="9.6" textLength="19" lengthAdjust="spacingAndGlyphs">Ст .18</text>
<text class="tx" x="521.4" y="435.6" font-size="9.6" textLength="19.2" lengthAdjust="spacingAndGlyphs">Ст .19</text>
<text class="tx" x="555.6" y="435.6" font-size="9.6" textLength="21" lengthAdjust="spacingAndGlyphs">Ст .20</text>
<text class="tx" x="588" y="435.6" font-size="9.6" textLength="20" lengthAdjust="spacingAndGlyphs">Ст .21</text>
<text class="tx" x="620" y="435.6" font-size="9.6" textLength="21" lengthAdjust="spacingAndGlyphs">Ст .22</text>
<text class="tx" x="521" y="363.4" font-size="9.6" textLength="4" lengthAdjust="spacingAndGlyphs">7</text>
<path class="ld" d="M525,365 L519,365 L483,399"/>
<path class="ld" d="M519,365 L508,411"/>
<line class="m1" x1="648" y1="418.6" x2="685.4" y2="354.3"/>
<line class="m1" x1="652.4" y1="426.2" x2="690.6" y2="359.5"/>
<rect class="rb" x="653.4" y="333.6" width="17" height="14.8"/>
<text class="tx" x="658.3" y="344.3" font-size="9.5" textLength="6.6" lengthAdjust="spacingAndGlyphs">12</text>
<line class="tk" x1="650" y1="335.7" x2="653.4" y2="335.7"/>
<path class="fa" d="M651.2,334.8 L649.8,335.7 L651.2,336.6 Z"/>
<path class="pp" d="M653.4,345.1 H649.7 V359.5"/>
<path class="pp" d="M670.4,339.6 H674 V354.3"/>
<line class="tk" x1="648.6" y1="351.3" x2="650.8" y2="351.3"/>
<line class="tk" x1="648.6" y1="349.7" x2="650.8" y2="349.7"/>
<line class="tk" x1="672.9" y1="351.3" x2="675.1" y2="351.3"/>
<line class="tk" x1="672.9" y1="349.7" x2="675.1" y2="349.7"/>
<line class="m1" x1="573.5" y1="354.3" x2="647.8" y2="354.3"/>
<line class="m1" x1="651.8" y1="354.3" x2="685.4" y2="354.3"/>
<line class="m1" x1="576.5" y1="359.5" x2="690.6" y2="359.5"/>
<path class="fa" d="M596,354.3 L600.6,351.7 L600.6,356.9 Z"/>
<path class="fa" d="M596,359.5 L600.6,356.9 L600.6,362.1 Z"/>
<text class="tx" x="653.6" y="369" font-size="9.6" textLength="20" lengthAdjust="spacingAndGlyphs">Ст .23</text>
<text class="tx" x="598" y="340.6" font-size="9.6" textLength="20" lengthAdjust="spacingAndGlyphs">Ст .24</text>
<text class="tx" x="618" y="350.5" font-size="9.6" textLength="18.5" lengthAdjust="spacingAndGlyphs">0.002</text>
<path class="sl" d="M634,351.6 L608.5,351.6 L616,348.6"/>
<text class="tx" x="630" y="370.6" font-size="9.6" textLength="4" lengthAdjust="spacingAndGlyphs">7</text>
<path class="ld" d="M627.5,372.5 L634.4,372.5 L648,354.4"/>
<path class="ld" d="M634.4,372.5 L674,352"/>
<text class="tx" x="706" y="374" font-size="9.6" textLength="9" lengthAdjust="spacingAndGlyphs">T 2</text>
<path class="ld" d="M717,375.2 L700,375.2 L690.4,361"/>
<text class="tx" x="704.4" y="385.6" font-size="9.6" textLength="35" lengthAdjust="spacingAndGlyphs">Дн =57 х 3,5</text>
<text class="tx" x="683" y="399.4" font-size="9.6" textLength="9" lengthAdjust="spacingAndGlyphs">T 1</text>
<path class="ld" d="M694,401 L678,401 L669.6,385"/>
<text class="tx" x="682.4" y="410.6" font-size="9.6" textLength="35" lengthAdjust="spacingAndGlyphs">Дн =57 х 3,5</text>
<path class="rb" d="M645.8,51.19 L637.6,64.59 L637.6,78.19 L645.8,65.59 Z"/>
<text class="tx" x="633.8" y="60.39" font-size="9.6" textLength="3.8" lengthAdjust="spacingAndGlyphs">7</text>
<line class="pg" x1="647" y1="51.59" x2="647" y2="68.59"/>
<line class="pp" x1="636" y1="77.39" x2="636" y2="98.9"/>
<line class="pp" x1="637.6" y1="77.59" x2="636" y2="77.59"/>
<line class="tk" x1="634.2" y1="68.59" x2="637.6" y2="68.59"/>
<path class="fa" d="M635.4,67.69 L634,68.59 L635.4,69.49 Z"/>
<path class="rb" d="M580.3,163.97 L572.1,177.37 L572.1,190.97 L580.3,178.37 Z"/>
<text class="tx" x="566.7" y="172.97" font-size="9.6" textLength="6.4" lengthAdjust="spacingAndGlyphs">12</text>
<line class="pg" x1="581.5" y1="164.37" x2="581.5" y2="181.37"/>
<line class="pp" x1="570.5" y1="190.17" x2="570.5" y2="211.83"/>
<line class="pp" x1="572.1" y1="190.37" x2="570.5" y2="190.37"/>
<line class="tk" x1="568.7" y1="181.37" x2="572.1" y2="181.37"/>
<path class="fa" d="M569.9,180.47 L568.5,181.37 L569.9,182.27 Z"/>
<path class="rb" d="M562.3,194.96 L554.1,208.36 L554.1,221.96 L562.3,209.36 Z"/>
<text class="tx" x="548.7" y="203.96" font-size="9.6" textLength="6.4" lengthAdjust="spacingAndGlyphs">12</text>
<line class="pg" x1="563.5" y1="195.36" x2="563.5" y2="212.36"/>
<line class="pp" x1="552.5" y1="221.16" x2="552.5" y2="242.87"/>
<line class="pp" x1="554.1" y1="221.36" x2="552.5" y2="221.36"/>
<line class="tk" x1="550.7" y1="212.36" x2="554.1" y2="212.36"/>
<path class="fa" d="M551.9,211.46 L550.5,212.36 L551.9,213.26 Z"/>
<path class="rb" d="M543.8,226.82 L535.6,240.22 L535.6,253.82 L543.8,241.22 Z"/>
<text class="tx" x="530.2" y="235.82" font-size="9.6" textLength="6.4" lengthAdjust="spacingAndGlyphs">12</text>
<line class="pg" x1="545" y1="227.22" x2="545" y2="244.22"/>
<line class="pp" x1="534" y1="253.02" x2="534" y2="274.77"/>
<line class="pp" x1="535.6" y1="253.22" x2="534" y2="253.22"/>
<line class="tk" x1="532.2" y1="244.22" x2="535.6" y2="244.22"/>
<path class="fa" d="M533.4,243.32 L532,244.22 L533.4,245.12 Z"/>
<path class="rb" d="M525.4,258.5 L517.2,271.9 L517.2,285.5 L525.4,272.9 Z"/>
<text class="tx" x="511.8" y="267.5" font-size="9.6" textLength="6.4" lengthAdjust="spacingAndGlyphs">12</text>
<line class="pg" x1="526.6" y1="258.9" x2="526.6" y2="275.9"/>
<line class="pp" x1="515.6" y1="284.7" x2="515.6" y2="306.49"/>
<line class="pp" x1="517.2" y1="284.9" x2="515.6" y2="284.9"/>
<line class="tk" x1="513.8" y1="275.9" x2="517.2" y2="275.9"/>
<path class="fa" d="M515,275 L513.6,275.9 L515,276.8 Z"/>
<path class="rb" d="M507.8,288.81 L499.6,302.21 L499.6,315.81 L507.8,303.21 Z"/>
<text class="tx" x="494.2" y="297.81" font-size="9.6" textLength="6.4" lengthAdjust="spacingAndGlyphs">12</text>
<line class="pg" x1="509" y1="289.21" x2="509" y2="306.21"/>
<line class="pp" x1="498" y1="315.01" x2="498" y2="336.84"/>
<line class="pp" x1="499.6" y1="315.21" x2="498" y2="315.21"/>
<line class="tk" x1="496.2" y1="306.21" x2="499.6" y2="306.21"/>
<path class="fa" d="M497.4,305.31 L496,306.21 L497.4,307.11 Z"/>
<line class="m1" x1="491" y1="338.4" x2="496.4" y2="329.1"/>
<line class="m1" x1="499.9" y1="323.08" x2="514" y2="298.8"/>
<line class="m1" x1="517.5" y1="292.77" x2="532.4" y2="267.11"/>
<line class="m1" x1="535.9" y1="261.09" x2="550.9" y2="235.26"/>
<line class="m1" x1="554.4" y1="229.23" x2="568.9" y2="204.27"/>
<line class="m1" x1="572.4" y1="198.24" x2="634.4" y2="91.48"/>
<line class="m1" x1="637.9" y1="85.46" x2="662.5" y2="43.1"/>
<line class="m1" x1="494.6" y1="342.7" x2="665" y2="48.9"/>
<text class="tx" x="653.6" y="82.6" font-size="9.6" textLength="20.8" lengthAdjust="spacingAndGlyphs">Ст .39</text>
<text class="tx" x="588" y="195" font-size="9.6" textLength="21.6" lengthAdjust="spacingAndGlyphs">Ст .40</text>
<text class="tx" x="570.6" y="225" font-size="9.6" textLength="19.4" lengthAdjust="spacingAndGlyphs">Ст .41</text>
<text class="tx" x="552" y="259" font-size="9.6" textLength="20.4" lengthAdjust="spacingAndGlyphs">Ст .42</text>
<text class="tx" x="534" y="289" font-size="9.6" textLength="20" lengthAdjust="spacingAndGlyphs">Ст .43</text>
<text class="tx" x="516.6" y="319.6" font-size="9.6" textLength="20" lengthAdjust="spacingAndGlyphs">Ст .44</text>
<text class="tx" x="600" y="102.4" font-size="9.6" textLength="9" lengthAdjust="spacingAndGlyphs">T 1</text>
<path class="ld" d="M596,104 L609,104 L620,113"/>
<text class="tx" x="578.6" y="114" font-size="9.6" textLength="30.4" lengthAdjust="spacingAndGlyphs">Дн =32 х 3</text>
<text class="tx" x="643.6" y="121" font-size="9.6" textLength="9.4" lengthAdjust="spacingAndGlyphs">T 2</text>
<path class="ld" d="M653.4,122.4 L638,122.4 L630,110"/>
<text class="tx" x="643" y="131.6" font-size="9.6" textLength="29.4" lengthAdjust="spacingAndGlyphs">Дн =32 х 3</text>
<text transform="translate(597.6,139.2) rotate(-55.5)" font-size="9.6" textLength="17.4" lengthAdjust="spacingAndGlyphs">0.002</text>
<path class="sl" d="M607.3,127.6 L595.3,147.9 L595.8,140.8"/>
<rect class="rb" x="668.3" y="22.3" width="9.5" height="14.9"/>
<text class="tx" x="670.8" y="33.2" font-size="9.5" textLength="4.2" lengthAdjust="spacingAndGlyphs">7</text>
<line class="tk" x1="664.9" y1="24.2" x2="668.3" y2="24.2"/>
<path class="fa" d="M666.1,23.3 L664.7,24.2 L666.1,25.1 Z"/>
<path class="pp" d="M668.3,33.5 H664.1 V48.9"/>
<path class="pp" d="M677.8,27.8 H681.2 V43.1"/>
<line class="tk" x1="663" y1="39.1" x2="665.2" y2="39.1"/>
<line class="tk" x1="663" y1="37.5" x2="665.2" y2="37.5"/>
<line class="tk" x1="680.1" y1="40.1" x2="682.3" y2="40.1"/>
<line class="tk" x1="680.1" y1="38.5" x2="682.3" y2="38.5"/>
<rect class="rb" x="691" y="22.3" width="9.5" height="14.9"/>
<text class="tx" x="693.5" y="33.2" font-size="9.5" textLength="4.2" lengthAdjust="spacingAndGlyphs">7</text>
<line class="tk" x1="687.6" y1="24.2" x2="691" y2="24.2"/>
<path class="fa" d="M688.8,23.3 L687.4,24.2 L688.8,25.1 Z"/>
<path class="pp" d="M691,33.5 H686.8 V48.9"/>
<path class="pp" d="M700.5,27.8 H703.9 V43.1"/>
<line class="tk" x1="685.7" y1="39.1" x2="687.9" y2="39.1"/>
<line class="tk" x1="685.7" y1="37.5" x2="687.9" y2="37.5"/>
<line class="tk" x1="702.8" y1="40.1" x2="705" y2="40.1"/>
<line class="tk" x1="702.8" y1="38.5" x2="705" y2="38.5"/>
<line class="m1" x1="667" y1="43.1" x2="685.2" y2="43.1"/>
<line class="m1" x1="689.7" y1="43.1" x2="709.6" y2="43.1"/>
<line class="m2" x1="664" y1="48.9" x2="712.4" y2="48.9"/>
<text class="tx" x="662.5" y="19.7" font-size="9.6" textLength="20" lengthAdjust="spacingAndGlyphs">Ст .38</text>
<text class="tx" x="686.5" y="19.7" font-size="9.6" textLength="20" lengthAdjust="spacingAndGlyphs">Ст .37</text>
<text class="tx" x="714.4" y="26.4" font-size="9.6" textLength="20" lengthAdjust="spacingAndGlyphs">Ст .36</text>
<path class="m1" d="M709.6,43.1 L693.4,71 L714.6,71 L716.3,68.2"/>
<path class="m1" d="M712.4,48.9 L696.8,75.8 L716.2,75.8 L730.9,49.3 L740.6,49.3 L740.6,62.6"/>
<path class="rb" d="M725.6,28.4 L717.4,40.4 L717.4,55.8 L725.6,44 Z"/>
<text class="tx" x="719.5" y="45" font-size="9.2" textLength="4.2" lengthAdjust="spacingAndGlyphs">7</text>
<line class="pg" x1="726.9" y1="36.2" x2="726.9" y2="43.2"/>
<line class="pg" x1="716.3" y1="47.5" x2="716.3" y2="71"/>
<path class="m2" d="M742.6,47.6 L742.6,43.2 L727.4,43.2 L716.3,62.9"/>
<line class="tk" x1="714" y1="44" x2="717.4" y2="44"/>
<path class="fa" d="M715.2,43.1 L713.8,44 L715.2,44.9 Z"/>
<path class="rb" d="M750.4,28 L742.1,40 L742.1,55 L750.4,43 Z"/>
<text class="tx" x="744.1" y="45" font-size="9.2" textLength="4.2" lengthAdjust="spacingAndGlyphs">7</text>
<line class="pg" x1="752" y1="36.2" x2="752" y2="55.4"/>
<path class="rb" d="M586.4,310.74 L578.1,324.94 L578.1,338.74 L586.4,324.54 Z"/>
<text class="tx" x="574.9" y="319.14" font-size="9.6" textLength="6.5" lengthAdjust="spacingAndGlyphs">12</text>
<line class="pp" x1="588.6" y1="318.94" x2="588.6" y2="338.24"/>
<line class="pp" x1="587.5" y1="318.94" x2="587.5" y2="324.94"/>
<line class="pg" x1="577.6" y1="328.74" x2="577.6" y2="346.79"/>
<line class="tk" x1="574.7" y1="332.04" x2="578.1" y2="332.04"/>
<path class="fa" d="M575.9,331.14 L574.5,332.04 L575.9,332.94 Z"/>
<path class="rb" d="M602.8,282.34 L594.5,296.54 L594.5,310.34 L602.8,296.14 Z"/>
<text class="tx" x="591.3" y="290.74" font-size="9.6" textLength="6.5" lengthAdjust="spacingAndGlyphs">12</text>
<line class="pp" x1="605" y1="290.54" x2="605" y2="309.84"/>
<line class="pp" x1="603.9" y1="290.54" x2="603.9" y2="296.54"/>
<line class="pg" x1="594" y1="300.34" x2="594" y2="318.37"/>
<line class="tk" x1="591.1" y1="303.64" x2="594.5" y2="303.64"/>
<path class="fa" d="M592.3,302.74 L590.9,303.64 L592.3,304.54 Z"/>
<path class="rb" d="M618.3,255.49 L610,269.69 L610,283.49 L618.3,269.29 Z"/>
<text class="tx" x="606.8" y="263.89" font-size="9.6" textLength="6.5" lengthAdjust="spacingAndGlyphs">12</text>
<line class="pp" x1="620.5" y1="263.69" x2="620.5" y2="282.99"/>
<line class="pp" x1="619.4" y1="263.69" x2="619.4" y2="269.69"/>
<line class="pg" x1="609.5" y1="273.49" x2="609.5" y2="291.51"/>
<line class="tk" x1="606.6" y1="276.79" x2="610" y2="276.79"/>
<path class="fa" d="M607.8,275.89 L606.4,276.79 L607.8,277.69 Z"/>
<path class="rb" d="M633.8,228.65 L625.5,242.85 L625.5,256.65 L633.8,242.45 Z"/>
<text class="tx" x="622.3" y="237.05" font-size="9.6" textLength="6.5" lengthAdjust="spacingAndGlyphs">12</text>
<line class="pp" x1="636" y1="236.85" x2="636" y2="256.15"/>
<line class="pp" x1="634.9" y1="236.85" x2="634.9" y2="242.85"/>
<line class="pg" x1="625" y1="246.65" x2="625" y2="264.65"/>
<line class="tk" x1="622.1" y1="249.95" x2="625.5" y2="249.95"/>
<path class="fa" d="M623.3,249.05 L621.9,249.95 L623.3,250.85 Z"/>
<path class="rb" d="M649.4,201.63 L641.1,215.83 L641.1,229.63 L649.4,215.43 Z"/>
<text class="tx" x="637.9" y="210.03" font-size="9.6" textLength="6.5" lengthAdjust="spacingAndGlyphs">12</text>
<line class="pp" x1="651.6" y1="209.83" x2="651.6" y2="229.13"/>
<line class="pp" x1="650.5" y1="209.83" x2="650.5" y2="215.83"/>
<line class="pg" x1="640.6" y1="219.63" x2="640.6" y2="237.62"/>
<line class="tk" x1="637.7" y1="222.93" x2="641.1" y2="222.93"/>
<path class="fa" d="M638.9,222.03 L637.5,222.93 L638.9,223.83 Z"/>
<path class="rb" d="M665.8,173.22 L657.5,187.42 L657.5,201.22 L665.8,187.02 Z"/>
<text class="tx" x="654.3" y="181.62" font-size="9.6" textLength="6.5" lengthAdjust="spacingAndGlyphs">12</text>
<line class="pp" x1="668" y1="181.42" x2="668" y2="200.72"/>
<line class="pp" x1="666.9" y1="181.42" x2="666.9" y2="187.42"/>
<line class="pg" x1="657" y1="191.22" x2="657" y2="209.2"/>
<line class="tk" x1="654.1" y1="194.52" x2="657.5" y2="194.52"/>
<path class="fa" d="M655.3,193.62 L653.9,194.52 L655.3,195.42 Z"/>
<path class="rb" d="M680.8,147.24 L672.5,161.44 L672.5,175.24 L680.8,161.04 Z"/>
<text class="tx" x="669.3" y="155.64" font-size="9.6" textLength="6.5" lengthAdjust="spacingAndGlyphs">12</text>
<line class="pp" x1="683" y1="155.44" x2="683" y2="174.74"/>
<line class="pp" x1="681.9" y1="155.44" x2="681.9" y2="161.44"/>
<line class="pg" x1="672" y1="165.24" x2="672" y2="183.2"/>
<line class="tk" x1="669.1" y1="168.54" x2="672.5" y2="168.54"/>
<path class="fa" d="M670.3,167.64 L668.9,168.54 L670.3,169.44 Z"/>
<path class="rb" d="M695.2,122.3 L686.9,136.5 L686.9,150.3 L695.2,136.1 Z"/>
<text class="tx" x="683.7" y="130.7" font-size="9.6" textLength="6.5" lengthAdjust="spacingAndGlyphs">12</text>
<line class="pp" x1="697.4" y1="130.5" x2="697.4" y2="149.8"/>
<line class="pp" x1="696.3" y1="130.5" x2="696.3" y2="136.5"/>
<line class="pg" x1="686.4" y1="140.3" x2="686.4" y2="158.25"/>
<line class="tk" x1="683.5" y1="143.6" x2="686.9" y2="143.6"/>
<path class="fa" d="M684.7,142.7 L683.3,143.6 L684.7,144.5 Z"/>
<path class="rb" d="M709.2,98.05 L700.9,112.25 L700.9,126.05 L709.2,111.85 Z"/>
<text class="tx" x="697.7" y="106.45" font-size="9.6" textLength="6.5" lengthAdjust="spacingAndGlyphs">12</text>
<line class="pp" x1="711.4" y1="106.25" x2="711.4" y2="125.55"/>
<line class="pp" x1="710.3" y1="106.25" x2="710.3" y2="112.25"/>
<line class="pg" x1="700.4" y1="116.05" x2="700.4" y2="133.99"/>
<line class="tk" x1="697.5" y1="119.35" x2="700.9" y2="119.35"/>
<path class="fa" d="M698.7,118.45 L697.3,119.35 L698.7,120.25 Z"/>
<path class="rb" d="M721.4,76.92 L713.1,91.12 L713.1,104.92 L721.4,90.72 Z"/>
<text class="tx" x="709.9" y="85.32" font-size="9.6" textLength="6.5" lengthAdjust="spacingAndGlyphs">12</text>
<line class="pp" x1="723.6" y1="85.12" x2="723.6" y2="104.42"/>
<line class="pp" x1="722.5" y1="85.12" x2="722.5" y2="91.12"/>
<line class="pg" x1="712.6" y1="94.92" x2="712.6" y2="112.85"/>
<line class="tk" x1="709.7" y1="98.22" x2="713.1" y2="98.22"/>
<path class="fa" d="M710.9,97.32 L709.5,98.22 L710.9,99.12 Z"/>
<path class="rb" d="M735.8,51.98 L727.5,66.18 L727.5,79.98 L735.8,65.78 Z"/>
<text class="tx" x="729.7" y="69.18" font-size="9.2" textLength="4.2" lengthAdjust="spacingAndGlyphs">7</text>
<line class="pp" x1="738" y1="60.18" x2="738" y2="79.48"/>
<line class="pp" x1="736.9" y1="60.18" x2="736.9" y2="66.18"/>
<line class="pg" x1="727" y1="69.98" x2="727" y2="87.89"/>
<line class="tk" x1="724.1" y1="73.28" x2="727.5" y2="73.28"/>
<path class="fa" d="M725.3,72.38 L723.9,73.28 L725.3,74.18 Z"/>
<line class="m1" x1="573.5" y1="354.3" x2="586.6" y2="331.6"/>
<line class="m1" x1="590.2" y1="325.36" x2="603" y2="303.18"/>
<line class="m1" x1="606.6" y1="296.94" x2="618.5" y2="276.32"/>
<line class="m1" x1="622.1" y1="270.08" x2="634" y2="249.46"/>
<line class="m1" x1="637.6" y1="243.22" x2="649.6" y2="222.42"/>
<line class="m1" x1="653.2" y1="216.18" x2="666" y2="194"/>
<line class="m1" x1="669.6" y1="187.76" x2="681" y2="168.01"/>
<line class="m1" x1="684.6" y1="161.77" x2="695.4" y2="143.05"/>
<line class="m1" x1="699" y1="136.81" x2="709.4" y2="118.79"/>
<line class="m1" x1="713" y1="112.55" x2="721.6" y2="97.65"/>
<line class="m1" x1="725.2" y1="91.41" x2="736" y2="72.69"/>
<line class="m1" x1="739.6" y1="66.46" x2="749.5" y2="49.3"/>
<line class="m1" x1="576.5" y1="359.5" x2="755.6" y2="49.3"/>
<line class="m1" x1="748.4" y1="49.3" x2="755.6" y2="49.3"/>
<text class="tx" x="614" y="311" font-size="9.6" textLength="20.4" lengthAdjust="spacingAndGlyphs">Ст .25</text>
<text class="tx" x="630.4" y="285" font-size="9.6" textLength="20.6" lengthAdjust="spacingAndGlyphs">Ст .26</text>
<text class="tx" x="645.6" y="256" font-size="9.6" textLength="20.4" lengthAdjust="spacingAndGlyphs">Ст .27</text>
<text class="tx" x="662" y="229.4" font-size="9.6" textLength="20.4" lengthAdjust="spacingAndGlyphs">Ст .28</text>
<text class="tx" x="677.6" y="202" font-size="9.6" textLength="21" lengthAdjust="spacingAndGlyphs">Ст .29</text>
<text class="tx" x="684" y="180.6" font-size="9.6" textLength="21" lengthAdjust="spacingAndGlyphs">Ст .30</text>
<text class="tx" x="708" y="146.6" font-size="9.6" textLength="19.4" lengthAdjust="spacingAndGlyphs">Ст .31</text>
<text class="tx" x="719.6" y="128" font-size="9.6" textLength="19.8" lengthAdjust="spacingAndGlyphs">Ст .32</text>
<text class="tx" x="732.6" y="104.6" font-size="9.6" textLength="20" lengthAdjust="spacingAndGlyphs">Ст .33</text>
<text class="tx" x="746" y="79" font-size="9.6" textLength="19.6" lengthAdjust="spacingAndGlyphs">Ст .34</text>
<text class="tx" x="761" y="55.6" font-size="9.6" textLength="19.6" lengthAdjust="spacingAndGlyphs">Ст .35</text>
<text class="tx" x="649.6" y="164.4" font-size="9.6" textLength="8.4" lengthAdjust="spacingAndGlyphs">T 1</text>
<path class="ld" d="M645,166 L658,166 L672,175"/>
<text class="tx" x="627.6" y="176" font-size="9.6" textLength="30.4" lengthAdjust="spacingAndGlyphs">Дн =32 х 3</text>
<text class="tx" x="709.6" y="171" font-size="9.6" textLength="9.4" lengthAdjust="spacingAndGlyphs">T 2</text>
<path class="ld" d="M722.4,172.4 L709,172.4 L695,157"/>
<text class="tx" x="708.4" y="182" font-size="9.6" textLength="30" lengthAdjust="spacingAndGlyphs">Дн =32 х 3</text>
<text class="tx" x="589.6" y="243.6" font-size="9.6" textLength="4.4" lengthAdjust="spacingAndGlyphs">7</text>
<path class="ld" d="M588,245 L594.4,245 L609,259"/>
<path class="ld" d="M594.4,245 L608.6,287"/>
<text transform="translate(618.4,228.4) rotate(-56)" font-size="9.6" textLength="18" lengthAdjust="spacingAndGlyphs">0.002</text>
<path class="sl" d="M619.5,229.2 L634.5,206.5 L630,208.6"/>
</svg>
</body></html>
